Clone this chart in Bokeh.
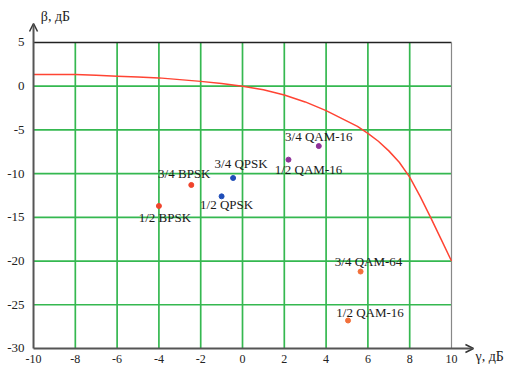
from bokeh.plotting import figure
from bokeh.models import Range1d, FixedTicker, Label, Arrow, OpenHead, ColumnDataSource
from bokeh.embed import file_html
from bokeh.resources import INLINE
from bokeh.core.properties import value

# ---- data ----
x_ticks = [-10, -8, -6, -4, -2, 0, 2, 4, 6, 8, 10]
x_tick_labels = ["-10", "-8", "-6", "-4", "-2", "0", "2", "4", "6", "8", "10"]
y_ticks = [-30, -25, -20, -15, -10, -5, 0, 5]
y_tick_labels = ["-30", "-25", "-20", "-15", "-10", "-5", "0", "5"]

curve_gamma = [-10, -9, -8, -7, -6, -5, -4, -3, -2, -1, 0, 1, 2, 3, 4, 5, 5.5, 6, 6.5, 7, 7.5,
               8, 8.5, 9, 9.5, 10]
curve_beta = [1.35, 1.35, 1.35, 1.25, 1.15, 1.05, 0.95, 0.75, 0.55, 0.3, 0.0, -0.4, -1.0, -1.8,
              -2.8, -4.0, -4.6, -5.4, -6.3, -7.4, -8.7, -10.4, -12.6, -15.0, -17.5, -20.0]

point_labels = ["1/2 BPSK", "3/4 BPSK", "1/2 QPSK", "3/4 QPSK",
                "1/2 QAM-16", "3/4 QAM-16", "3/4 QAM-64", "1/2 QAM-16"]
point_gamma = [-4.0, -2.45, -1.0, -0.45, 2.2, 3.65, 5.65, 5.05]
point_beta = [-13.7, -11.3, -12.6, -10.5, -8.4, -6.85, -21.2, -26.8]

# ---- styling ----
point_colors = ["#f0442c", "#f0442c", "#1f4db8", "#1f4db8",
                "#8e3199", "#8e3199", "#f2703a", "#f2703a"]
label_dx = [6, -7, 5, 8, 20, 0, 8, 22]
label_dy = [12, -11, 8, -14, 10, -9.5, -10.5, -8]

FONT = "Liberation Serif"
GRID = "#35b850"
AXIS = "#555555"

X_TIP = 11.05   # arrow tip of the gamma axis
Y_TIP = 7.17    # arrow tip of the beta axis

p = figure(width=507, height=368, output_backend="svg", toolbar_location=None,
           x_range=Range1d(-11.58, 12.68), y_range=Range1d(-32.29, 9.80),
           min_border_left=0, min_border_right=0, min_border_top=0,
           min_border_bottom=0)
p.xgrid.visible = False
p.ygrid.visible = False
p.outline_line_color = None
p.background_fill_color = "white"

# grid lines
vx = x_ticks[1:-1]
p.segment(x0=vx, y0=[y_ticks[0]] * len(vx), x1=vx, y1=[y_ticks[-1]] * len(vx),
          line_color=GRID, line_width=1.7)
hy = y_ticks[1:-1]
p.segment(x0=[x_ticks[0]] * len(hy), y0=hy, x1=[x_ticks[-1]] * len(hy), y1=hy,
          line_color=GRID, line_width=1.7)
# top and right borders
p.segment(x0=[x_ticks[0]], y0=[y_ticks[-1]], x1=[x_ticks[-1]], y1=[y_ticks[-1]],
          line_color="#222222", line_width=1.5)
p.segment(x0=[x_ticks[-1]], y0=[y_ticks[0]], x1=[x_ticks[-1]], y1=[y_ticks[-1]],
          line_color="#888888", line_width=1.2)

# curve
p.line(curve_gamma, curve_beta, line_color="#ff4433", line_width=1.5)

# points and labels
src = ColumnDataSource(dict(x=point_gamma, y=point_beta, t=point_labels,
                            c=point_colors, dx=label_dx, dy=label_dy))
p.scatter("x", "y", source=src, size=5, fill_color="c", line_color="c")
p.text("x", "y", text="t", source=src, x_offset="dx", y_offset="dy",
       text_align="center", text_baseline="middle",
       text_font=value(FONT), text_font_size="13px", text_color="#1a1a1a")

# axes (tick labels only; lines drawn as arrows)
p.xaxis.ticker = FixedTicker(ticks=x_ticks)
p.xaxis.major_label_overrides = dict(zip(x_ticks, x_tick_labels))
p.yaxis.ticker = FixedTicker(ticks=y_ticks)
p.yaxis.major_label_overrides = dict(zip(y_ticks, y_tick_labels))
p.xaxis.fixed_location = y_ticks[0]
p.yaxis.fixed_location = x_ticks[0]
for ax in (p.xaxis, p.yaxis):
    ax.axis_line_color = None
    ax.major_tick_line_color = None
    ax.minor_tick_line_color = None
    ax.major_label_text_font = FONT
    ax.major_label_text_color = "#222222"
p.yaxis.major_label_text_font_size = "13px"
p.xaxis.major_label_text_font_size = "12px"
p.xaxis.major_label_standoff = 1
p.yaxis.major_label_standoff = 3

# axis lines with arrows
p.add_layout(Arrow(end=OpenHead(size=8, line_width=1.5, line_color="#333333"),
                   x_start=x_ticks[0], y_start=y_ticks[0], x_end=x_ticks[0], y_end=Y_TIP,
                   line_color=AXIS, line_width=2))
p.add_layout(Arrow(end=OpenHead(size=8, line_width=1.5, line_color="#333333"),
                   x_start=x_ticks[0], y_start=y_ticks[0], x_end=X_TIP, y_end=y_ticks[0],
                   line_color=AXIS, line_width=2))

# axis titles
p.add_layout(Label(x=-9.65, y=7.97, text="β, дБ", text_align="left", text_baseline="middle",
                   text_font=FONT, text_font_size="14px", text_color="#222222"))
p.add_layout(Label(x=11.15, y=-30.9, text="γ, дБ", text_align="left", text_baseline="middle",
                   text_font=FONT, text_font_size="14px", text_color="#222222"))

open("out.html", "w").write(file_html(p, INLINE))
